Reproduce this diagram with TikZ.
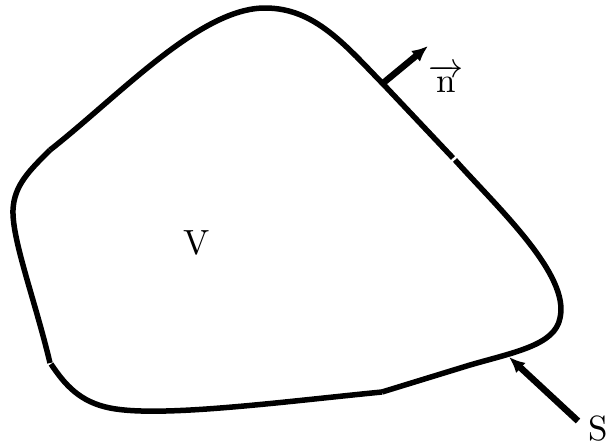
\RequirePackage{fix-cm}
\documentclass[tikz,border=0pt]{standalone}
\usepackage{fontspec}
\setmainfont{lmroman10-regular}[Extension=.otf]
\usetikzlibrary{arrows.meta}
\begin{document}
\begin{tikzpicture}[x=1pt,y=-1pt,
  outline/.style={line width=5.5pt,line cap=butt,line join=round},
  vecarrow/.style={line width=6.5pt,-{Latex[length=16pt,width=14pt]}},
  lbl/.style={inner sep=0pt,font=\fontsize{35}{40}\selectfont}]
\useasboundingbox (0,0) rectangle (608,447);
% outline segments
\draw[outline] (50,150) .. controls (120,95) and (200,8) .. (265,8)
  .. controls (315,8) and (345,45) .. (385,86) -- (453,158);
\draw[outline] (455,160) .. controls (500,210) and (570,275) .. (560,318)
  .. controls (555,345) and (515,352) .. (470,365) -- (382,392);
\draw[outline] (382,392) .. controls (280,402) and (160,418) .. (110,408)
  .. controls (80,402) and (65,385) .. (51,364);
\draw[outline] (50,363) .. controls (35,300) and (12,240) .. (13,210)
  .. controls (14,185) and (30,170) .. (50,150);
% normal vector
\coordinate (nb) at (382,84);
\coordinate (nt) at (428,46);
\draw[vecarrow] (nb) -- (nt);
\node[lbl,anchor=base] (nlabel) at (446,92) {$\overrightarrow{\mathrm{n}}$};
% surface pointer
\coordinate (st) at (578,421);
\coordinate (sh) at (509,357);
\draw[vecarrow] (st) -- (sh);
\node[lbl,anchor=base west] (slabel) at (588,440) {S};
% volume label
\node[lbl,anchor=base] (vlabel) at (197,254) {V};
\end{tikzpicture}
\end{document}
